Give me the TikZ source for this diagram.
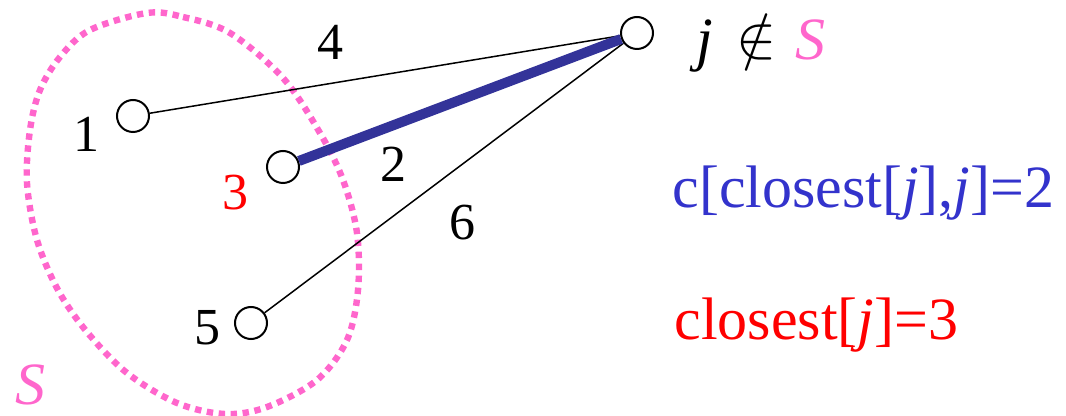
\documentclass[tikz,border=0pt]{standalone}
\usepackage{fontspec}
\setmainfont{Liberation Serif}
\newfontfamily\symfont{Latin Modern Math}
\usepackage{tikz}
\usetikzlibrary{positioning,calc}

\definecolor{setpink}{RGB}{255,102,204}
\definecolor{edgeblue}{RGB}{51,51,153}
\definecolor{textblue}{RGB}{51,51,204}

\begin{document}
\begin{tikzpicture}[
  x=0.5pt, y=-0.5pt,
  vert/.style={draw, circle, minimum size=16pt, inner sep=0pt, line width=1pt},
  lab/.style={anchor=base, inner sep=0pt, font=\fontsize{26}{28}\selectfont},
  big/.style={anchor=base west, inner sep=0pt, font=\fontsize{30}{32}\selectfont},
  thin/.style={line width=0.75pt},
  heavy/.style={line width=5pt, edgeblue},
  setline/.style={setpink, line width=3.2pt, dash pattern=on 3.2pt off 2.8pt}
]
\useasboundingbox (0,0) rectangle (1066,416);

% the set S
\draw[setline] plot[smooth cycle, tension=0.55] coordinates {
  (147,13) (183,17) (230,33) (283,78) (320,133) (343,180) (357,233)
  (358,290) (347,340) (317,380) (267,407) (225,414) (177,403) (127,373)
  (87,332) (58,290) (37,240) (27,183) (30,130) (40,90) (60,57) (90,30)};

% vertices
\node[vert] (v1) at (133,116) {};
\node[vert] (v3) at (283,167) {};
\node[vert] (v5) at (251,323) {};
\node[vert] (vj) at (637,33) {};

% edges
\draw[thin] (v1) -- (vj);
\draw[thin] (v5) -- (vj);
\draw[heavy] (v3) -- (vj);

% labels
\node[lab] (l1) at (86,152) {1};
\node[lab, red] (l3) at (235,210) {3};
\node[lab] (l5) at (207,345) {5};
\node[lab] (w4) at (330,60) {4};
\node[lab] (w2) at (393,182) {2};
\node[lab] (w6) at (462,240) {6};
\node[lab, setpink, font=\fontsize{30}{32}\selectfont\itshape] (sname) at (31,405) {S};

\node[lab, font=\fontsize{30}{32}\selectfont\itshape] (jname) at (705,60) {j};
\node[lab, font=\fontsize{30}{32}\symfont] (notin) at (757,58) {∉};
\node[lab, setpink, font=\fontsize{30}{32}\selectfont\itshape] (sname2) at (810,60) {S};

\node[big, textblue] (cost) at (672,208) {c[closest[\textit{j}],\textit{j}]=2};
\node[big, red] (close) at (674,340) {closest[\textit{j}]=3};
\end{tikzpicture}
\end{document}
